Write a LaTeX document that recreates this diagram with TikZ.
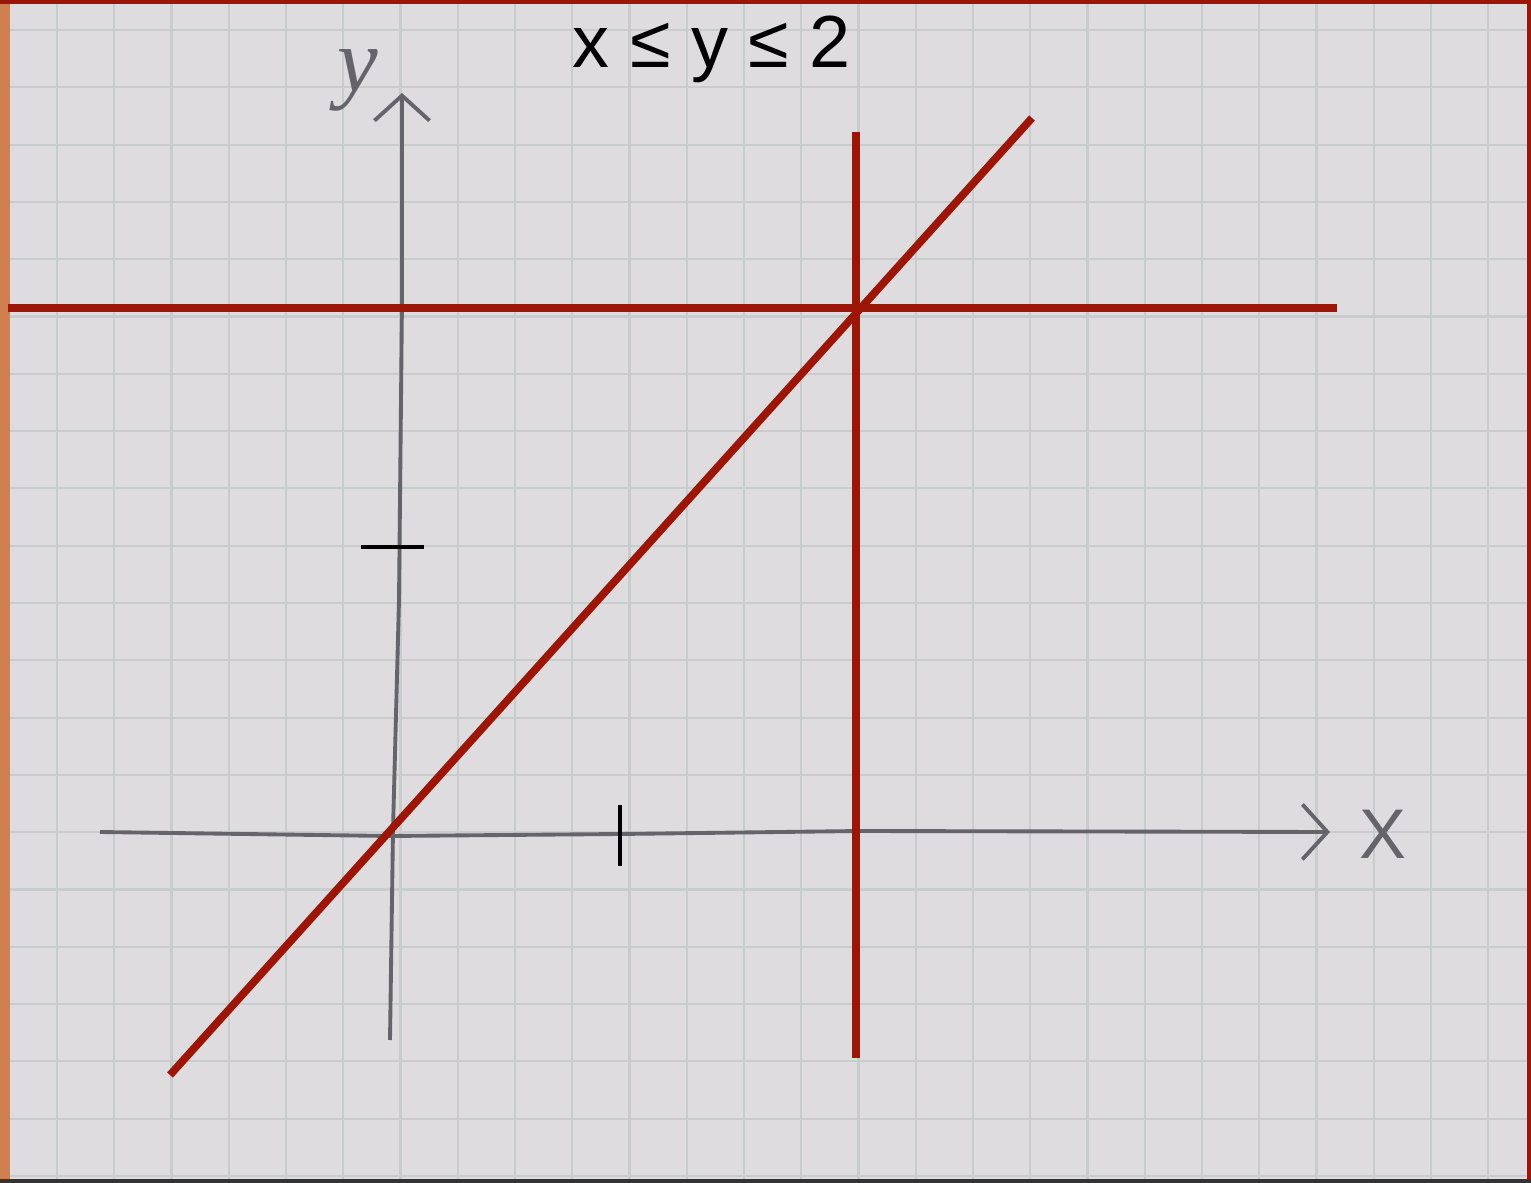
\documentclass[tikz,border=0pt]{standalone}
\usepackage{fontspec}
\setmainfont{Liberation Sans}
\newfontfamily\handfont{Liberation Serif}
\usepackage{tikz}
\usetikzlibrary{arrows.meta}

\definecolor{paper}{RGB}{223,220,223}
\definecolor{gridgray}{RGB}{200,204,204}
\definecolor{pencil}{RGB}{100,100,106}
\definecolor{plotred}{RGB}{155,22,6}
\definecolor{tape}{RGB}{208,128,78}

\begin{document}
\begin{tikzpicture}[
  x=0.01cm, y=-0.01cm,
  gridline/.style={gridgray, line width=0.6pt},
  pencilline/.style={pencil, line width=1.1pt, line join=round},
  tickmark/.style={black, line width=0.9pt},
  redline/.style={plotred, line width=2.2pt},
  axisarrow/.style={-{Straight Barb[length=0.25cm, width=0.55cm, line width=1.1pt]}},
  handlabel/.style={pencil, font=\handfont\itshape\fontsize{26}{26}\selectfont},
  title/.style={font=\fontsize{21}{21}\selectfont, anchor=base},
]
\useasboundingbox (0,0) rectangle (1531,1183);
\clip (0,0) rectangle (1531,1183);
% paper and grid
\fill[paper] (0,0) rectangle (1531,1183);
\foreach \k in {-1,...,26}
  \draw[gridline] ({57+57.25*\k},0) -- ({57+57.25*\k},1183);
\foreach \k in {-1,...,20}
  \draw[gridline] (0,{30+57.3*\k}) -- (1531,{30+57.3*\k});

% frame of the photo
\fill[tape] (0,0) rectangle (10,1183);
\draw[plotred, line width=1pt] (0,2) -- (1531,2);
\draw[plotred, line width=1.2pt] (1529,0) -- (1529,1183);
\draw[black!80, line width=1.2pt] (0,1181) -- (1531,1181);

% axes
\coordinate (xstart) at (100,832);
\coordinate (xend)   at (1330,832);
\coordinate (ystart) at (390,1040);
\coordinate (yend)   at (402,93);
\draw[pencilline, axisarrow] (xstart) -- (390,836) -- (620,834) -- (860,831) -- (xend);
\draw[pencilline, axisarrow] (ystart) -- (393,830) -- (399,600) -- (402,300) -- (yend);
\node[handlabel] (ylabel) at (358,80) {y};
\node[pencil, font=\fontsize{20}{20}\selectfont] (xlabel) at (1383,834) {X};

% unit ticks
\coordinate (ytickl) at (361,547);
\coordinate (ytickr) at (424,547);
\coordinate (xticku) at (620,805);
\coordinate (xtickd) at (620,866);
\draw[tickmark] (ytickl) -- (ytickr);
\draw[tickmark] (xticku) -- (xtickd);

% the three red lines
\coordinate (hleft)  at (8,308);
\coordinate (hright) at (1337,308);
\coordinate (vtop)   at (856,132);
\coordinate (vbot)   at (856,1058);
\coordinate (dlow)   at (170,1075);
\coordinate (dhigh)  at (1032,118);
\draw[redline] (hleft) -- (hright);
\draw[redline] (vtop) -- (vbot);
\draw[redline] (dlow) -- (dhigh);

\node[title] (heading) at (712,68) {x ≤ y ≤ 2};
\end{tikzpicture}
\end{document}
